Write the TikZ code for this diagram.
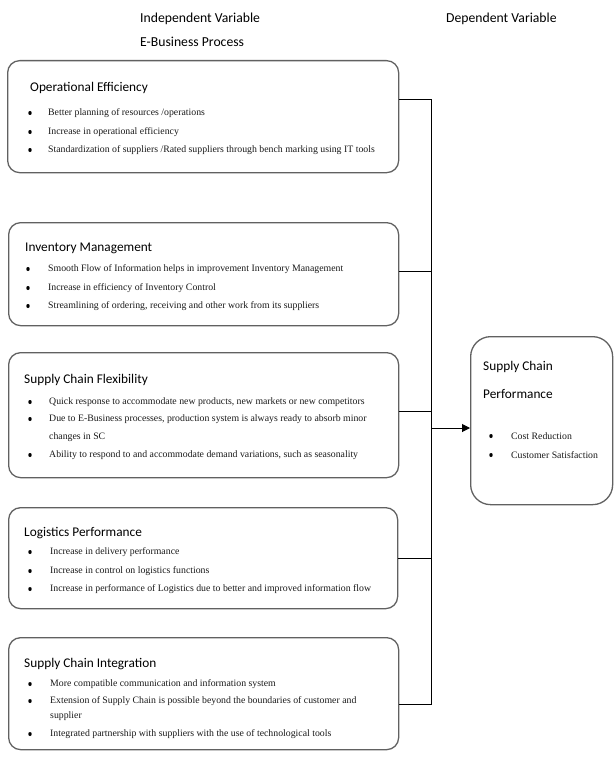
\documentclass[tikz,border=0pt]{standalone}
\usepackage{fontspec}
\setmainfont{Liberation Serif}
\newfontfamily\hd{Carlito}
\usetikzlibrary{arrows.meta,shapes.geometric}
\newcommand\bitem[5]{\node[bul] (#1b) at (#2,#4) {}; \node[itm] (#1) at (#3,#4) {#5};}
\begin{document}
\begin{tikzpicture}[x=1pt,y=-1pt,
  box/.style={draw=black!62, line width=1.3pt, rounded corners=12pt, inner sep=0pt, anchor=north west},
  ttl/.style={anchor=west, inner sep=0pt, font=\hd\fontsize{13.3}{15}\selectfont},
  hdr/.style={anchor=west, inner sep=0pt, font=\hd\fontsize{13.7}{15}\selectfont},
  itm/.style={anchor=west, inner sep=0pt, text=black!90, font=\fontsize{9.8}{11}\selectfont},
  bul/.style={ellipse, fill=black, inner sep=0pt, minimum width=3.4pt, minimum height=4pt},
  conn/.style={draw=black, line width=1pt}]
\useasboundingbox (0,0) rectangle (613,757);

% headers
\node[hdr] (h1) at (140,19) {Independent Variable};
\node[hdr] (h2) at (140,42) {E-Business Process};
\node[hdr] (h3) at (446,19) {Dependent Variable};

% boxes
\node[box, minimum width=391pt, minimum height=112pt] (b1) at (7,60) {};
\node[box, minimum width=390pt, minimum height=103pt] (b2) at (8,222) {};
\node[box, minimum width=390pt, minimum height=125pt] (b3) at (8,352) {};
\node[box, minimum width=389pt, minimum height=101pt] (b4) at (8,507) {};
\node[box, minimum width=390pt, minimum height=112pt] (b5) at (8,637) {};
\node[box, rounded corners=20pt, minimum width=142pt, minimum height=168pt] (sp) at (470,336) {};

% box 1
\node[ttl] (t1) at (30,88) {Operational Efficiency};
\bitem{a1}{30}{48}{113}{Better planning of resources /operations}
\bitem{a2}{30}{48}{132}{Increase in operational efficiency}
\bitem{a3}{30}{48}{150}{Standardization of suppliers /Rated suppliers through bench marking using IT tools}

% box 2
\node[ttl] (t2) at (25,248) {Inventory Management};
\bitem{c1}{28}{48}{269}{Smooth Flow of Information helps in improvement Inventory Management}
\bitem{c2}{28}{48}{288}{Increase in efficiency of Inventory Control}
\bitem{c3}{28}{48}{306}{Streamlining of ordering, receiving and other work from its suppliers}

% box 3
\node[ttl] (t3) at (24,380) {Supply Chain Flexibility};
\bitem{d1}{30}{49}{402}{Quick response to accommodate new products, new markets or new competitors}
\bitem{d2}{30}{49}{419}{Due to E-Business processes, production system is always ready to absorb minor}
\node[itm] (d2c) at (49,437) {changes in SC};
\bitem{d3}{30}{49}{455}{Ability to respond to and accommodate demand variations, such as seasonality}

% box 4
\node[ttl] (t4) at (24,533) {Logistics Performance};
\bitem{e1}{30}{50}{552}{Increase in delivery performance}
\bitem{e2}{30}{50}{571}{Increase in control on logistics functions}
\bitem{e3}{30}{50}{589}{Increase in performance of Logistics due to better and improved information flow}

% box 5
\node[ttl] (t5) at (24,664) {Supply Chain Integration};
\bitem{f1}{30}{50}{684}{More compatible communication and information system}
\bitem{f2}{30}{50}{701}{Extension of Supply Chain is possible beyond the boundaries of customer and}
\node[itm] (f2c) at (50,716) {supplier};
\bitem{f3}{30}{50}{734}{Integrated partnership with suppliers with the use of technological tools}

% right box
\node[ttl] (s1) at (483,367) {Supply Chain};
\node[ttl] (s2) at (483,394) {Performance};
\bitem{g1}{491}{511}{436}{Cost Reduction}
\bitem{g2}{491}{511}{455}{Customer Satisfaction}

% connectors
\coordinate (j1) at (431,100);
\coordinate (j2) at (431,271);
\coordinate (j3) at (431,411);
\coordinate (j4) at (431,558);
\coordinate (j5) at (431,704);
\coordinate (ja) at (431,428);
\draw[conn] (b1.east |- j1) -- (j1) -- (j5) -- (b5.east |- j5);
\draw[conn] (b2.east |- j2) -- (j2);
\draw[conn] (b3.east |- j3) -- (j3);
\draw[conn] (b4.east |- j4) -- (j4);
\draw[conn, -{Triangle[length=8pt,width=8pt]}] (ja) -- (sp.west |- ja);
\end{tikzpicture}
\end{document}
